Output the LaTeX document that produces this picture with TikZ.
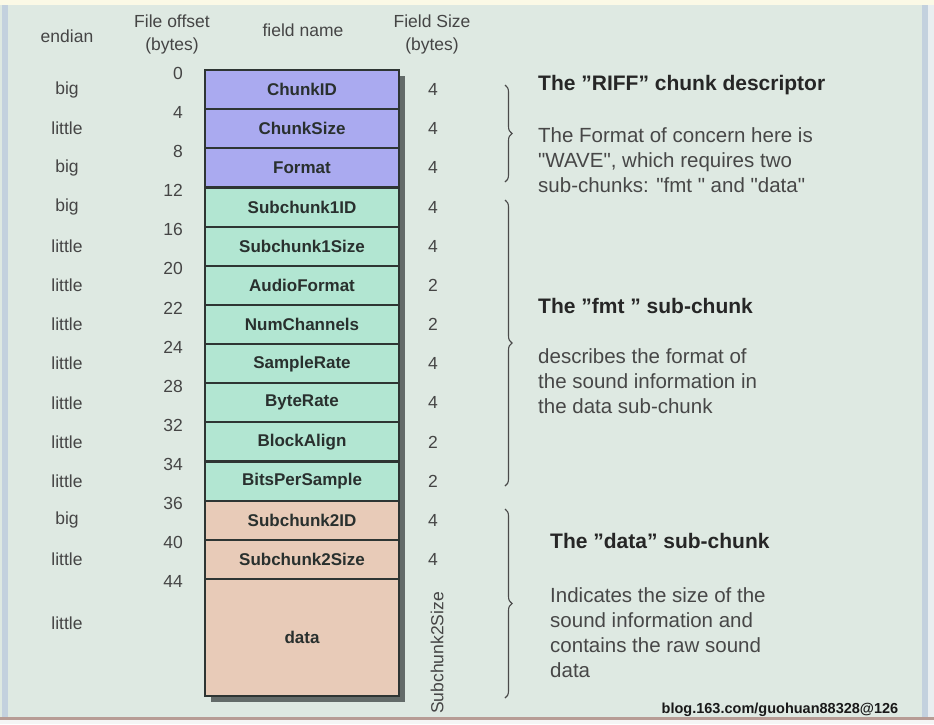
\documentclass[tikz,border=0pt]{standalone}
\usepackage{fontspec}
\setmainfont{Liberation Sans}
\usepackage{tikz}
\usetikzlibrary{backgrounds}
\usetikzlibrary{positioning}
\usetikzlibrary{decorations.pathreplacing}

\definecolor{pagebg}{HTML}{DEE9E2}
\definecolor{topc}{HTML}{FBF9E6}
\definecolor{edgec}{HTML}{C3D1DE}
\definecolor{rimc}{HTML}{E9EEF0}
\definecolor{bottomc}{HTML}{B79C95}
\definecolor{riffc}{HTML}{AAAAF0}
\definecolor{fmtc}{HTML}{B2E6D2}
\definecolor{datac}{HTML}{E8CBB8}
\definecolor{boxline}{HTML}{2E3533}
\definecolor{shadowc}{HTML}{636B69}
\definecolor{lblc}{HTML}{454545}
\definecolor{bracec}{HTML}{4A4A4A}

\newcommand\lblfont{\fontsize{17.5}{23}\selectfont}
\newcommand\fieldfont{\fontsize{17}{19}\selectfont\bfseries}
\newcommand\bodyfont{\fontsize{20.5}{25}\selectfont}
\newcommand\headfont{\fontsize{21}{25}\selectfont\bfseries}
\newcommand\q{\textquotedbl}

\tikzset{
  fld/.style={draw=boxline, line width=2.2pt, outer sep=0pt, inner sep=0pt,
    minimum width=194, minimum height=39.15, font=\fieldfont, text=boxline!90!black},
  lbl/.style={font=\lblfont, text=lblc, inner sep=0pt},
  offs/.style={lbl, anchor=east, yshift=-3},
  brc/.style={decorate, decoration={brace, amplitude=7}, draw=bracec, line width=1.1pt},
  head/.style={font=\headfont, text=black!85, anchor=base west, inner sep=0pt},
  body/.style={font=\bodyfont, text=black!72, anchor=base west, align=left, inner sep=0pt},
  wmark/.style={font=\fontsize{14.5}{16}\selectfont\bfseries, text=black!90, inner sep=0pt}
}

\begin{document}
\begin{tikzpicture}[x=1pt, y=-1pt]
\useasboundingbox (0,0) rectangle (934,724);

% column heads
\node[lbl, align=center] (hend) at (67,36) {endian};
\node[lbl, align=center] (hoff) at (172,34) {File offset\\(bytes)};
\node[lbl, align=center] (hname) at (303,30) {field name};
\node[lbl, align=center] (hsize) at (432,34) {Field Size\\(bytes)};

% the fields
\node[fld, fill=riffc, anchor=north west] (chunkid) at (205,70) {ChunkID};
\node[fld, fill=riffc, below=0pt of chunkid] (chunksize) {ChunkSize};
\node[fld, fill=riffc, below=0pt of chunksize] (format) {Format};
\node[fld, fill=fmtc, below=0pt of format] (sc1id) {Subchunk1ID};
\node[fld, fill=fmtc, below=0pt of sc1id] (sc1size) {Subchunk1Size};
\node[fld, fill=fmtc, below=0pt of sc1size] (audiofmt) {AudioFormat};
\node[fld, fill=fmtc, below=0pt of audiofmt] (numch) {NumChannels};
\node[fld, fill=fmtc, below=0pt of numch] (srate) {SampleRate};
\node[fld, fill=fmtc, below=0pt of srate] (brate) {ByteRate};
\node[fld, fill=fmtc, below=0pt of brate] (balign) {BlockAlign};
\node[fld, fill=fmtc, below=0pt of balign] (bps) {BitsPerSample};
\node[fld, fill=datac, below=0pt of bps] (sc2id) {Subchunk2ID};
\node[fld, fill=datac, below=0pt of sc2id] (sc2size) {Subchunk2Size};
\node[fld, fill=datac, below=0pt of sc2size, minimum height=117] (data) {data};

% endian
\node[lbl] (end1) at (67,0 |- chunkid) {big};
\node[lbl] (end2) at (67,0 |- chunksize) {little};
\node[lbl] (end3) at (67,0 |- format) {big};
\node[lbl] (end4) at (67,0 |- sc1id) {big};
\node[lbl] (end5) at (67,0 |- sc1size) {little};
\node[lbl] (end6) at (67,0 |- audiofmt) {little};
\node[lbl] (end7) at (67,0 |- numch) {little};
\node[lbl] (end8) at (67,0 |- srate) {little};
\node[lbl] (end9) at (67,0 |- brate) {little};
\node[lbl] (end10) at (67,0 |- balign) {little};
\node[lbl] (end11) at (67,0 |- bps) {little};
\node[lbl] (end12) at (67,0 |- sc2id) {big};
\node[lbl] (end13) at (67,0 |- sc2size) {little};
\node[lbl] (end14) at (67,623) {little};

% offsets
\node[offs] (off0) at (183,0 |- chunkid.north) {0};
\node[offs] (off4) at (183,0 |- chunksize.north) {4};
\node[offs] (off8) at (183,0 |- format.north) {8};
\node[offs] (off12) at (183,0 |- sc1id.north) {12};
\node[offs] (off16) at (183,0 |- sc1size.north) {16};
\node[offs] (off20) at (183,0 |- audiofmt.north) {20};
\node[offs] (off22) at (183,0 |- numch.north) {22};
\node[offs] (off24) at (183,0 |- srate.north) {24};
\node[offs] (off28) at (183,0 |- brate.north) {28};
\node[offs] (off32) at (183,0 |- balign.north) {32};
\node[offs] (off34) at (183,0 |- bps.north) {34};
\node[offs] (off36) at (183,0 |- sc2id.north) {36};
\node[offs] (off40) at (183,0 |- sc2size.north) {40};
\node[offs] (off44) at (183,0 |- data.north) {44};

% field sizes
\node[lbl] (sz1) at (433,0 |- chunkid) {4};
\node[lbl] (sz2) at (433,0 |- chunksize) {4};
\node[lbl] (sz3) at (433,0 |- format) {4};
\node[lbl] (sz4) at (433,0 |- sc1id) {4};
\node[lbl] (sz5) at (433,0 |- sc1size) {4};
\node[lbl] (sz6) at (433,0 |- audiofmt) {2};
\node[lbl] (sz7) at (433,0 |- numch) {2};
\node[lbl] (sz8) at (433,0 |- srate) {4};
\node[lbl] (sz9) at (433,0 |- brate) {4};
\node[lbl] (sz10) at (433,0 |- balign) {2};
\node[lbl] (sz11) at (433,0 |- bps) {2};
\node[lbl] (sz12) at (433,0 |- sc2id) {4};
\node[lbl] (sz13) at (433,0 |- sc2size) {4};
\node[lbl, rotate=90] (sz14) at (437,653) {Subchunk2Size};

% braces
\coordinate (rifftop) at (505,85);
\coordinate (riffbot) at (505,182);
\coordinate (fmttop) at (505,200);
\coordinate (fmtbot) at (505,486);
\coordinate (datatop) at (505,509);
\coordinate (databot) at (505,698);
\draw[brc] (rifftop) -- (riffbot);
\draw[brc] (fmttop) -- (fmtbot);
\draw[brc] (datatop) -- (databot);

% notes (body nodes sit on their last line)
\node[head] (riffhead) at (538,90) {The "RIFF" chunk descriptor};
\node[body] (riffbody) at (538,192) {The Format of concern here is\\\q WAVE\q, which requires two\\sub-chunks: \q fmt\ \q\ and \q data\q};
\node[head] (fmthead) at (538,313) {The "fmt\ " sub-chunk};
\node[body] (fmtbody) at (538,413) {describes the format of\\the sound information in\\the data sub-chunk};
\node[head] (datahead) at (550,548) {The "data" sub-chunk};
\node[body] (databody) at (550,677) {Indicates the size of the\\sound information and\\contains the raw sound\\data};

\node[wmark] (blog) at (780,710) {blog.163.com/guohuan88328@126};

% page and shadow
\begin{scope}[on background layer]
\fill[pagebg] (0,0) rectangle (934,724);
\fill[topc] (0,0) rectangle (934,5);
\fill[edgec] (2,5) rectangle (8,718);
\fill[edgec] (922,5) rectangle (928,718);
\fill[rimc] (928,5) rectangle (934,718);
\fill[bottomc] (0,717) rectangle (934,720);
\fill[black!4] (0,720) rectangle (934,724);
\fill[shadowc] ([shift={(6,6)}]chunkid.north west) rectangle ([shift={(6,6)}]data.south east);
\end{scope}
\end{tikzpicture}
\end{document}
